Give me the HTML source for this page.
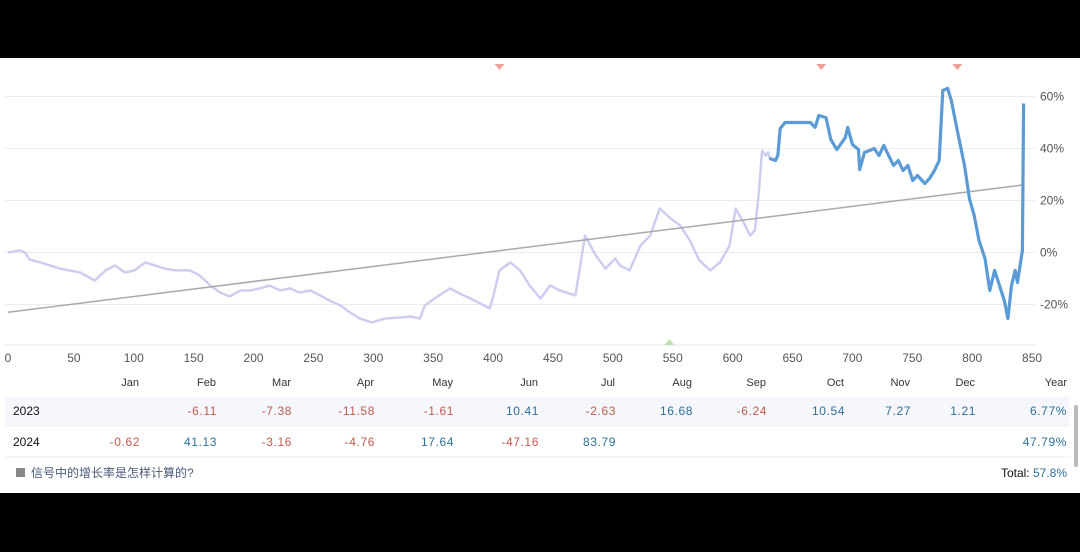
<!DOCTYPE html>
<html><head><meta charset="utf-8"><style>
html,body{margin:0;padding:0;background:#000;width:1080px;height:552px;overflow:hidden;font-family:"Liberation Sans","Noto Sans CJK SC",sans-serif}
#panel{position:absolute;left:0;top:58px;width:1080px;height:435px;background:#fff}
svg{position:absolute;left:0;top:0}
</style></head><body>
<div id="panel"></div>
<svg id="chart" width="1080" height="552"></svg>
<script>
const xTicks=[0,50,100,150,200,250,300,350,400,450,500,550,600,650,700,750,800,850];
const yTicks=[60,40,20,0,-20];
const histIdx=[0,10,14,18,27,35,43,51,60,72,81,89,97,105,114,122,130,139,151,159,168,176,184,193,201,209,217,226,234,242,251,259,267,276,284,292,302,313,325,334,342,346,354,367,375,384,392,400,404,408,417,425,433,442,450,458,471,479,488,496,504,508,516,525,533,541,550,558,566,574,583,591,599,604,612,616,620,623,626,629,631,632];
const histVal=[0,0.8,0,-2.7,-3.8,-5,-6.2,-6.9,-7.7,-10.8,-6.9,-5,-7.7,-6.9,-3.8,-5,-6.2,-6.9,-6.9,-8.8,-12.7,-15.4,-16.9,-14.6,-14.6,-13.8,-12.7,-14.6,-13.8,-15.4,-14.6,-16.5,-18.5,-20.4,-23.1,-25.4,-26.9,-25.4,-25,-24.6,-25.4,-20.4,-17.7,-13.8,-15.8,-17.7,-19.6,-21.5,-14.6,-6.9,-3.8,-6.9,-12.7,-17.7,-12.7,-14.6,-16.5,6.5,-1.2,-6.2,-2.3,-5,-6.9,2.7,6.5,16.9,13.1,10.4,4.6,-3.1,-6.9,-3.8,2.7,16.9,10.4,6.5,8.5,21.9,39.2,37.3,38.5,36.2];
const curIdx=[632,637,639,641,645,666,670,673,679,683,688,691,695,697,701,706,707,711,715,719,723,727,731,735,739,743,747,751,755,761,765,769,773,776,780,783,788,794,798,802,806,811,815,819,823,827,830,833,836,838,842,843];
const curVal=[36.2,35.4,37.3,47.7,50,50,48.1,52.7,51.9,43.5,39.6,41.5,44.2,48.1,41.5,39.6,31.9,38.5,39.2,40,37.3,41.2,37.3,33.5,35.4,31.5,33.5,27.7,29.6,26.5,28.5,31.5,35.4,62.3,63.1,58.5,46.9,33.5,20.8,14.2,4.6,-2.3,-14.6,-6.9,-12.7,-18.5,-25.4,-12.7,-6.9,-11.5,0.8,57.3];
const trendIdx=[0,843];
const trendVal=[-23,26];
const sellMarks=[408,675,788];
const buyMarks=[549];
const months=["Jan","Feb","Mar","Apr","May","Jun","Jul","Aug","Sep","Oct","Nov","Dec","Year"];
const row2023=["","-6.11","-7.38","-11.58","-1.61","10.41","-2.63","16.68","-6.24","10.54","7.27","1.21","6.77%"];
const row2024=["-0.62","41.13","-3.16","-4.76","17.64","-47.16","83.79","","","","","","47.79%"];

const NS="http://www.w3.org/2000/svg";
const svg=document.getElementById('chart');
const X=v=>8+v*1.2047;
const Y=v=>252.5-v*2.6;
function mk(t,a,p){const e=document.createElementNS(NS,t);for(const k in a)e.setAttribute(k,a[k]);(p||svg).appendChild(e);return e;}

yTicks.forEach(t=>{
  const g=mk('line',{x1:5,x2:1035,y1:Y(t),y2:Y(t),stroke:'#ececec','stroke-width':1});
  
  
  const l=mk('text',{x:1040,y:Y(t)+4,'font-size':12,fill:'#555'});l.textContent=t+'%';
  
  
});
const ax=mk('line',{x1:5,x2:1035,y1:345,y2:345,stroke:'#e6e6e6','stroke-width':1});


xTicks.forEach(t=>{
  const l=mk('text',{x:X(t)+(t>0?6-t*0.007:0),y:362,'font-size':12,fill:'#555','text-anchor':'middle'});l.textContent=t;
  
  
});
function path(xs,ys){return xs.map((v,i)=>(i?'L':'M')+X(v).toFixed(1)+' '+Y(ys[i]).toFixed(1)).join('');}
const h=mk('path',{d:path(histIdx,histVal),fill:'none',stroke:'#cdcdf0','stroke-width':2.5,'stroke-linejoin':'round'});


const tr=mk('path',{d:path(trendIdx,trendVal),fill:'none',stroke:'#a9a9a9','stroke-width':1.5});


const c=mk('path',{d:path(curIdx,curVal),fill:'none',stroke:'#5b9bd5','stroke-width':3.2,'stroke-linejoin':'round'});


sellMarks.forEach(m=>{
  const x=X(m);const p=mk('path',{d:`M${x-5} 64L${x+5} 64L${x} 70Z`,fill:'#eba294'});
  
  
});
buyMarks.forEach(m=>{
  const x=X(m);const p=mk('path',{d:`M${x-5} 345L${x+5} 345L${x} 339Z`,fill:'#bfe0b0'});
  
  
});

// table
const colR=[140,217,292,375,454,539,616,693,767,845,911,976,1067];
const bg=mk('rect',{x:5,y:397,width:1065,height:28,fill:'#f5f7fc'});


[426,457].forEach(y=>{const l=mk('line',{x1:5,x2:1070,y1:y,y2:y,stroke:'#eeeeee'});
  
  });
months.forEach((m,i)=>{
  const t=mk('text',{x:colR[i]+(i<12?-1:0),y:386,'font-size':11,fill:'#333','text-anchor':'end'});t.textContent=m;
  
  
});
function row(label,vals,y){
  const t=mk('text',{x:13,y:y,'font-size':12,fill:'#111'});t.textContent=label;
  
  
  vals.forEach((v,i)=>{if(!v)return;
    const e=mk('text',{x:colR[i],y:y,'font-size':12,fill:v[0]=='-'?'#c25a4e':'#2e6f98','text-anchor':'end','letter-spacing':'0.6'});
    e.textContent=v;
    
    });
}
row('2023',row2023,415);row('2024',row2024,446);
const ic=mk('rect',{x:16,y:468,width:9,height:9,fill:'#888'});


const hl=mk('text',{x:31,y:477,'font-size':12,fill:'#4a5a7a'});hl.textContent='信号中的增长率是怎样计算的?';


const tot=mk('text',{x:1067,y:477,'font-size':12,fill:'#111','text-anchor':'end'});
tot.innerHTML='Total: <tspan fill="#2e6f98">57.8%</tspan>';


const sb=mk('rect',{x:1074,y:405,width:4,height:62,fill:'#bbb',rx:2});


</script>
</body></html>
